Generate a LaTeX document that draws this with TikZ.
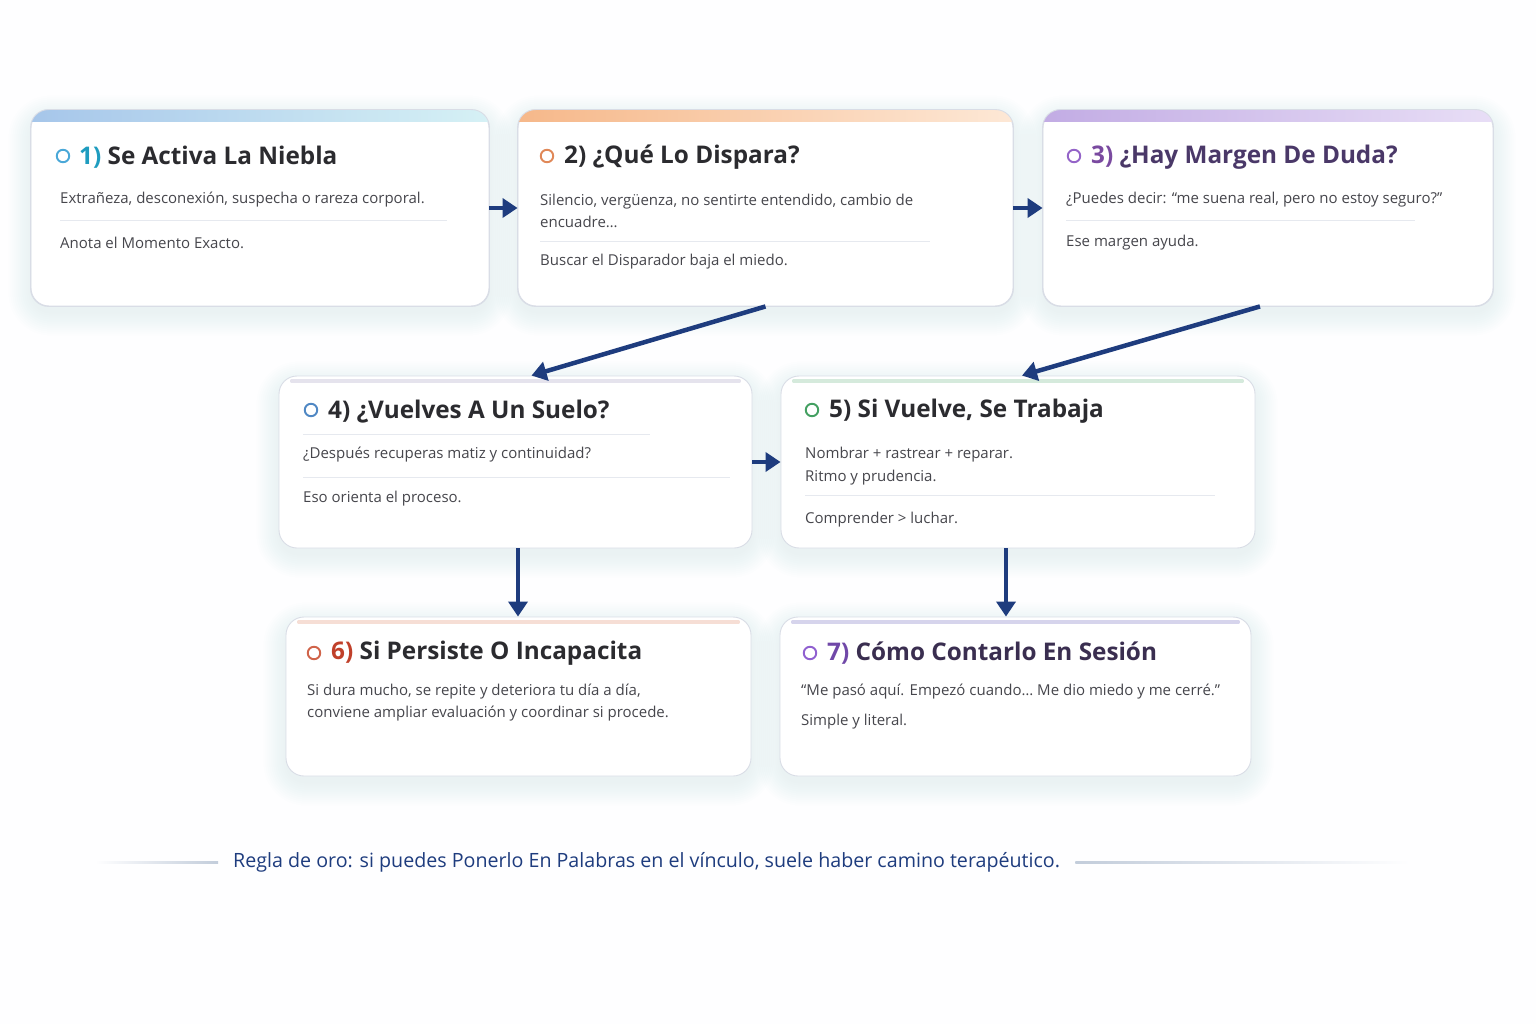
\documentclass[tikz,border=0pt]{standalone}
\usepackage{fontspec}
\setmainfont{Open Sans}
\usetikzlibrary{arrows.meta,calc}
\pgfdeclarelayer{background}
\pgfsetlayers{background,main}
\definecolor{bg}{HTML}{FEFEFF}
\definecolor{navy}{HTML}{1E3C7E}
\definecolor{cardline}{HTML}{D9DDE6}
\definecolor{sepc}{HTML}{E6E9EF}
\definecolor{titlec}{HTML}{2B2B2F}
\definecolor{bodyc}{HTML}{46464C}
\definecolor{cA}{HTML}{4AA8D8}
\definecolor{cB}{HTML}{E08858}
\definecolor{cC}{HTML}{9464C8}
\definecolor{cD}{HTML}{5088C4}
\definecolor{cE}{HTML}{44A062}
\definecolor{cF}{HTML}{D0644A}
\definecolor{cG}{HTML}{9060D0}
\definecolor{numA}{HTML}{1E9CBF}
\definecolor{numC}{HTML}{7A4AA0}
\definecolor{titC}{HTML}{4A3868}
\definecolor{numF}{HTML}{C0402A}
\definecolor{numG}{HTML}{7048A8}
\definecolor{titG}{HTML}{3A2E50}
\definecolor{shadowc}{HTML}{70809A}
\tikzset{
  card/.style={rectangle, rounded corners=18pt, fill=white, draw=cardline, line width=0.9pt},
  cardedge/.style={rounded corners=18pt, draw=cardline, line width=0.9pt},
  dot/.style={circle, draw=#1, line width=1.9pt, minimum size=12.5pt, inner sep=0pt},
  ttl/.style={anchor=west, inner sep=0pt, yshift=-1.5pt, font=\fontsize{24.3}{28}\selectfont\bfseries, text=titlec},
  body/.style={anchor=west, inner sep=0pt, yshift=-2pt, font=\fontsize{15}{22}\selectfont, text=bodyc, align=left},
  sep/.style={draw=sepc, line width=1pt},
  flow/.style={draw=navy, line width=4.5pt, -{Triangle[length=15pt,width=19pt]}},
}
\begin{document}
\begin{tikzpicture}[x=1pt,y=-1pt]
\useasboundingbox (0,0) rectangle (1536,1024);

% ---------- cards ----------
\node[card, minimum width=458pt, minimum height=196pt] (b1) at (260,208) {};
\node[card, minimum width=495pt, minimum height=196pt] (b2) at (765.5,208) {};
\node[card, minimum width=450pt, minimum height=196pt] (b3) at (1268,208) {};
\node[card, minimum width=473pt, minimum height=172pt] (b4) at (515.5,462) {};
\node[card, minimum width=474pt, minimum height=172pt] (b5) at (1018,462) {};
\node[card, minimum width=465pt, minimum height=159pt] (b6) at (518.5,696.5) {};
\node[card, minimum width=471pt, minimum height=159pt] (b7) at (1015.5,696.5) {};

% background and soft shadows
\begin{pgfonlayer}{background}
\fill[bg] (0,0) rectangle (1536,1024);
\foreach \b in {b1,b2,b3,b4,b5,b6,b7}{
  \foreach \k [evaluate=\k as \rr using 18+\k] in {2,4,...,24}{
    \fill[shadowc, opacity=0.009, rounded corners=\rr pt]
      ($(\b.north west)+(-\k+2,-\k+10)$) rectangle ($(\b.south east)+(\k-2,\k+5)$);
  }
}
\end{pgfonlayer}

% top bands (row 1)
\foreach \b/\l/\m/\r in {b1/A6C6EA/B0DEEE/D6F1F5, b2/F6B88A/FAD0AE/FDE8D6, b3/C2ACE4/D2C2EE/E8DEF6}{
  \definecolor{bl}{HTML}{\l}\definecolor{bm}{HTML}{\m}\definecolor{br}{HTML}{\r}
  \begin{scope}
    \clip[rounded corners=18pt] (\b.north west) rectangle (\b.south east);
    \shade[left color=bl, middle color=bm, right color=br] (\b.north west) rectangle ($(\b.north east)+(0,12)$);
  \end{scope}
  \draw[cardedge] (\b.north west) rectangle (\b.south east);
}
% top lines (rows 2 and 3)
\foreach \b/\c in {b4/B4B0CC, b5/86C49C, b6/E6A088, b7/8A84C8}{
  \definecolor{tl}{HTML}{\c}
  \shade[left color=tl!35!white, middle color=tl, right color=tl!35!white]
    ($(\b.north west)+(12,4)$) rectangle ($(\b.north east)+(-12,6.5)$);
}

% ---------- card 1 ----------
\node[dot=cA] (d1) at (63,156) {};
\node[ttl] (t1) at (79,156) {\textcolor{numA}{1)} Se Activa La Niebla};
\node[body] (x1a) at (60,198) {Extrañeza, desconexión, suspecha o rareza corporal.};
\draw[sep] (60,221) -- (447,221);
\node[body] (x1b) at (60,241) {Anota el Momento Exacto.};

% ---------- card 2 ----------
\node[dot=cB] (d2) at (547,156) {};
\node[ttl] (t2) at (564,156) {2) ¿Qué Lo Dispara?};
\node[body] (x2a) at (540,208.5) {Silencio, vergüenza, no sentirte entendido, cambio de\\encuadre…};
\draw[sep] (540,242) -- (930,242);
\node[body] (x2b) at (540,260) {Buscar el Disparador baja el miedo.};

% ---------- card 3 ----------
\node[dot=cC] (d3) at (1074,156) {};
\node[ttl, text=titC] (t3) at (1091,156) {\textcolor{numC}{3)} ¿Hay Margen De Duda?};
\node[body] (x3a) at (1066,198) {¿Puedes decir: “me suena real, pero no estoy seguro?”};
\draw[sep] (1066,221) -- (1415,221);
\node[body] (x3b) at (1066,241) {Ese margen ayuda.};

% ---------- card 4 ----------
\node[dot=cD] (d4) at (311,410) {};
\node[ttl] (t4) at (328,410) {4) ¿Vuelves A Un Suelo?};
\draw[sep] (303,434) -- (650,434);
\node[body] (x4a) at (303,453) {¿Después recuperas matiz y continuidad?};
\draw[sep] (303,477) -- (730,477);
\node[body] (x4b) at (303,497) {Eso orienta el proceso.};

% ---------- card 5 ----------
\node[dot=cE] (d5) at (812,410) {};
\node[ttl] (t5) at (829,410) {5) Si Vuelve, Se Trabaja};
\node[body] (x5a) at (805,464) {Nombrar + rastrear + reparar.\\[1pt]Ritmo y prudencia.};
\draw[sep] (805,495) -- (1215,495);
\node[body] (x5b) at (805,518) {Comprender > luchar.};

% ---------- card 6 ----------
\node[dot=cF] (d6) at (314,653) {};
\node[ttl] (t6) at (331,652) {\textcolor{numF}{6)} Si Persiste O Incapacita};
\node[body] (x6a) at (307,701) {Si dura mucho, se repite y deteriora tu día a día,\\conviene ampliar evaluación y coordinar si procede.};

% ---------- card 7 ----------
\node[dot=cG] (d7) at (810,653) {};
\node[ttl, text=titG] (t7) at (827,652) {\textcolor{numG}{7)} Cómo Contarlo En Sesión};
\node[body] (x7a) at (801,690) {“Me pasó aquí. Empezó cuando… Me dio miedo y me cerré.”};
\node[body] (x7b) at (801,720) {Simple y literal.};

% ---------- connectors ----------
\draw[flow] (b1.east) -- (b2.west);
\draw[flow] (b2.east) -- (b3.west);
\coordinate (a24) at ($(b4.north)+(16,0)$);
\draw[flow] (b2.south) -- (a24);
\coordinate (s35) at ($(b3.south)+(-8,0)$);
\coordinate (a35) at ($(b5.north)+(4,0)$);
\draw[flow] (s35) -- (a35);
\draw[flow] (b4.east) -- (b5.west);
\coordinate (s46) at ($(b4.south)+(2.5,0)$);
\draw[flow] (s46) -- (s46 |- b6.north);
\coordinate (s57) at ($(b5.south)+(-12,0)$);
\draw[flow] (s57) -- (s57 |- b7.north);

% ---------- footer ----------
\definecolor{rulec}{HTML}{C3CDDB}
\node[anchor=west, inner sep=0pt, font=\fontsize{19.65}{23}\selectfont, text=navy] (foot) at (233,862) {Regla de oro: si puedes Ponerlo En Palabras en el vínculo, suele haber camino terapéutico.};
\shade[left color=bg, right color=rulec] (95,861) rectangle ($(foot.west)+(-15,1)$);
\shade[left color=rulec, right color=bg] ($(foot.east)+(15,-1)$) rectangle (1410,863);
\end{tikzpicture}
\end{document}
